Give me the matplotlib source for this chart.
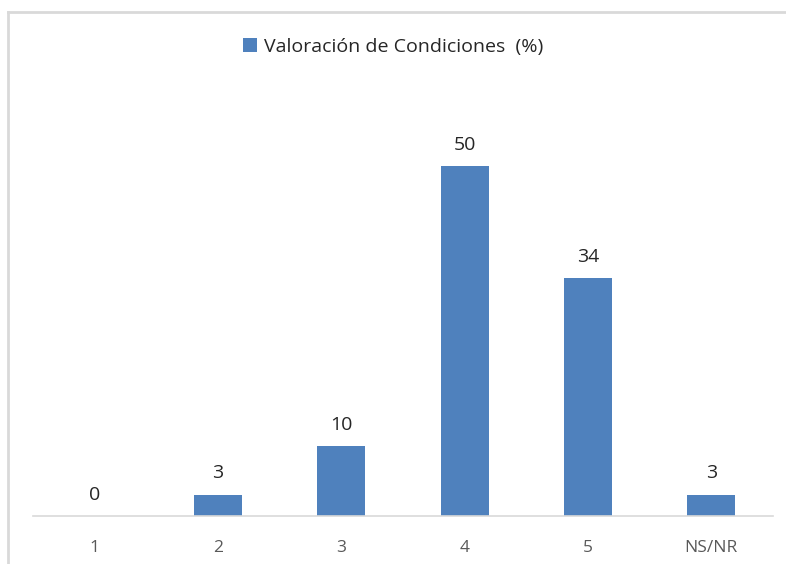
import matplotlib
matplotlib.use('Agg')
import matplotlib.pyplot as plt
from matplotlib.lines import Line2D

categories = ['1', '2', '3', '4', '5', 'NS/NR']
values = [0, 3, 10, 50, 34, 3]
series_name = 'Valoración de Condiciones  (%)'

plt.rcParams['font.family'] = ['Open Sans', 'DejaVu Sans']

W, H = 786, 564
fig = plt.figure(figsize=(W / 100, H / 100), dpi=100)

# frame lines (top and left only visible in the reference)
fig.add_artist(Line2D([8 / W, 1], [1 - 12 / H, 1 - 12 / H], color='#D9D9D9', lw=2))
fig.add_artist(Line2D([8 / W, 8 / W], [0, 1 - 12 / H], color='#D9D9D9', lw=2))

ax = fig.add_axes([33 / W, 48 / H, 740 / W, 420 / H])
x = range(len(categories))
bars = ax.bar(x, values, width=0.39, color='#4F81BD', label=series_name)

ax.set_ylim(0, 60)
ax.set_xlim(-0.5, len(categories) - 0.5)
ax.set_yticks([])
for side in ['top', 'right', 'left']:
    ax.spines[side].set_visible(False)
ax.spines['bottom'].set_color('#D9D9D9')
ax.spines['bottom'].set_linewidth(1.2)
ax.set_xticks(list(x))
ax.set_xticklabels(categories, color='#595959', fontsize=12.5)
ax.tick_params(axis='x', length=0, pad=17)

for b, v in zip(bars, values):
    ax.annotate(str(v), (b.get_x() + b.get_width() / 2, v), xytext=(0, 9),
                textcoords='offset points', ha='center', va='bottom',
                fontsize=14, color='#262626')

fig.legend(handles=[bars], labels=[series_name], loc='center',
           bbox_to_anchor=(0.5, 1 - 47 / H), frameon=False, fontsize=14,
           handlelength=0.75, handleheight=0.75, handletextpad=0.35,
           labelcolor='#262626')

fig.savefig('out.png', dpi=100)
